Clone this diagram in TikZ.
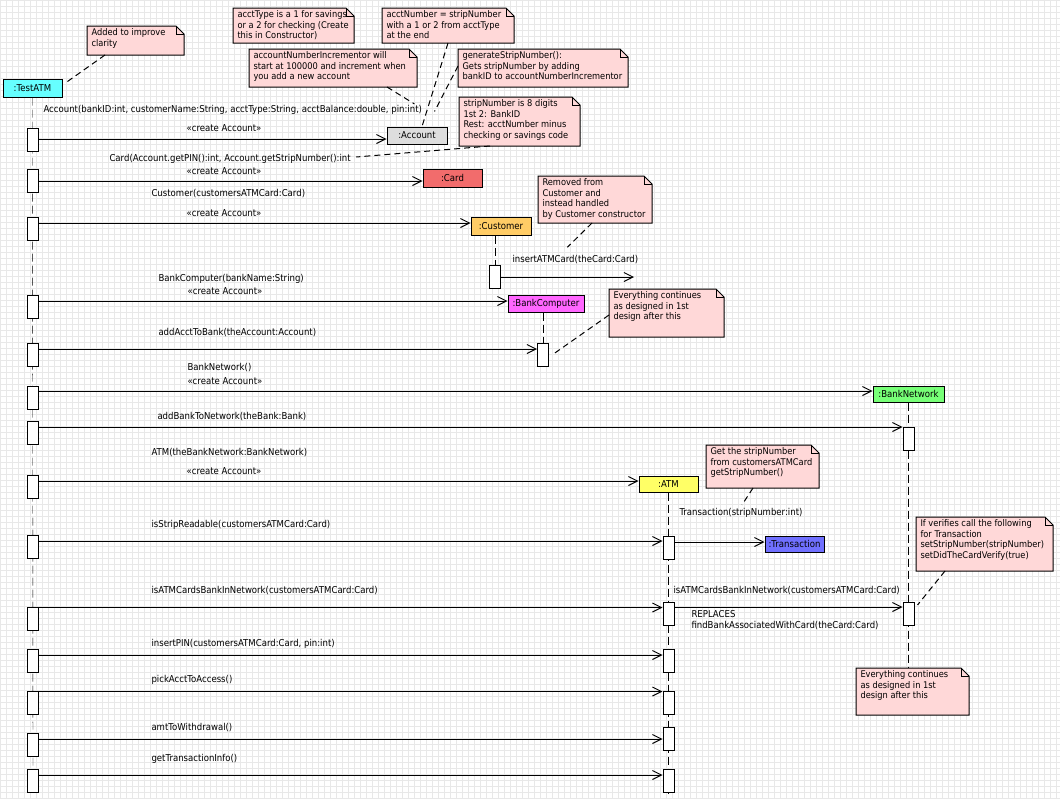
\documentclass[tikz,border=0pt]{standalone}
\usepackage{fontspec}
\newfontfamily\umlfont{DejaVu Sans}[FakeStretch=0.9]
\usepackage{tikz}
\usetikzlibrary{arrows.meta, backgrounds}

\definecolor{gridgray}{HTML}{E8E8E8}
\definecolor{notepink}{HTML}{FFD8D8}
\definecolor{testcyan}{HTML}{66FFFF}
\definecolor{acctgray}{HTML}{DDDDDD}
\definecolor{cardred}{HTML}{F26C6C}
\definecolor{custorange}{HTML}{FFCC66}
\definecolor{bcmagenta}{HTML}{FF66FF}
\definecolor{bngreen}{HTML}{77FF77}
\definecolor{atmyellow}{HTML}{FFFF66}
\definecolor{transblue}{HTML}{7070FF}

% note with folded corner: name, left, top, right, bottom, text
\newcommand{\umlnote}[6]{%
  \node[inner sep=0pt, minimum width={#4pt-#2pt}, minimum height={#5pt-#3pt}, anchor=north west] (#1) at (#2,#3) {};
  \draw[fill=notepink] (#1.north west) -- ([xshift=-8pt]#1.north east) -- ([yshift=-8pt]#1.north east)
    -- (#1.south east) -- (#1.south west) -- cycle;
  \draw ([xshift=-8pt]#1.north east) |- ([yshift=-8pt]#1.north east);
  \begin{scope}
    \clip (#1.north west) rectangle (#1.south east);
    \node[notetext] (#1-text) at ([xshift=3pt,yshift=-1.5pt]#1.north west) {#6};
  \end{scope}
}

\begin{document}
\begin{tikzpicture}
                        [x=1pt, y=-1pt, line width=1pt,
                         every node/.style={font=\umlfont\fontsize{9.5}{11}\selectfont},
                         obj/.style={draw, fill=#1, minimum height=18pt, inner sep=0pt},
                         act/.style={draw, fill=white, minimum width=11pt, minimum height=23pt, inner sep=0pt, anchor=north},
                         msg/.style={-{Straight Barb[length=9pt, width=9pt]}},
                         lbl/.style={anchor=west, inner sep=0pt},
                         notetext/.style={anchor=north west, align=left, inner sep=1pt,
                                          font=\umlfont\fontsize{9.2}{10.5}\selectfont},
                         lifeline/.style={dash pattern=on 8pt off 4pt},
                         noteline/.style={dash pattern=on 6pt off 4pt}]

                        \useasboundingbox (0,0) rectangle (1060,798);

                        % objects
                        \node[obj=testcyan, minimum width=59pt] (testatm) at (32.5,88) {:TestATM};
                        \node[obj=acctgray, minimum width=60pt, minimum height=17pt] (account) at (417,135.5) {:Account};
                        \node[obj=cardred, minimum width=59pt] (card) at (452.5,178) {:Card};
                        \node[obj=custorange, minimum width=60pt] (customer) at (501,226) {:Customer};
                        \node[obj=bcmagenta, minimum width=76pt, minimum height=17pt] (bankcomputer) at (546,303.5) {:BankComputer};
                        \node[obj=bngreen, minimum width=71pt, minimum height=16pt] (banknetwork) at (908.5,394) {:BankNetwork};
                        \node[obj=atmyellow, minimum width=59pt, minimum height=16pt] (atm) at (668.5,484) {:ATM};
                        \node[obj=transblue, minimum width=59pt, minimum height=16pt] (transaction) at (794.5,544) {:Transaction};

                        % activations
                        \foreach \i/\y in {1/128, 2/169, 3/217, 4/295, 5/343, 6/386, 7/421,
                                           8/475, 9/535, 10/607, 11/649, 12/691, 13/733, 14/769}
                            \node[act] (ta\i) at (33,\y) {};
                        \node[act] (cu1) at (495,265) {};
                        \node[act] (bc1) at (543,343) {};
                        \node[act] (bn1) at (908.5,427) {};
                        \node[act] (bn2) at (908.5,602) {};
                        \foreach \i/\y in {1/536, 2/602, 3/649, 4/691, 5/727, 6/769}
                            \node[act] (at\i) at (668.5,\y) {};

                        % messages
                        \foreach \src/\dy/\dst in {ta1/11pt/account, ta2/12pt/card, ta3/6pt/customer,
                                                   ta4/6pt/bankcomputer, ta5/6pt/bc1, ta6/5pt/banknetwork,
                                                   ta7/6pt/bn1, ta8/6pt/atm, ta9/6pt/at1, at1/6pt/transaction,
                                                   ta10/0.5pt/at2, at2/5pt/bn2, ta11/6pt/at3, ta12/0.5pt/at4,
                                                   ta13/6pt/at5, ta14/6pt/at6}
                            \draw[msg] ([yshift=-\dy]\src.north east) coordinate (m) -- (m -| \dst.west);
                        \coordinate (insertend) at (634,277);
                        \draw[msg] ([yshift=-12pt]cu1.north east) -- (insertend);

                        % message labels
                        \node[lbl] (l-account) at (43,110) {Account(bankID:int, customerName:String, acctType:String, acctBalance:double, pin:int)};
                        \node (c-account) at (224,128) {«create Account»};
                        \node[lbl] (l-card) at (109,159) {Card(Account.getPIN():int, Account.getStripNumber():int};
                        \node (c-card) at (224,171) {«create Account»};
                        \node[lbl] (l-customer) at (151,194) {Customer(customersATMCard:Card)};
                        \node (c-customer) at (224,213) {«create Account»};
                        \node[lbl] (l-insert) at (512,260) {insertATMCard(theCard:Card)};
                        \node[lbl] (l-bankcomputer) at (158,279) {BankComputer(bankName:String)};
                        \node (c-bankcomputer) at (225,291) {«create Account»};
                        \node[lbl] (l-addacct) at (158,333) {addAcctToBank(theAccount:Account)};
                        \node[lbl] (l-banknetwork) at (187,368) {BankNetwork()};
                        \node[lbl] (c-banknetwork) at (187,381) {«create Account»};
                        \node[lbl] (l-addbank) at (157,417) {addBankToNetwork(theBank:Bank)};
                        \node[lbl] (l-atm) at (151,453) {ATM(theBankNetwork:BankNetwork)};
                        \node (c-atm) at (224,471) {«create Account»};
                        \node[lbl] (l-transaction) at (679,513) {Transaction(stripNumber:int)};
                        \node[lbl] (l-readable) at (151,525) {isStripReadable(customersATMCard:Card)};
                        \node[lbl] (l-innetwork) at (151,591) {isATMCardsBankInNetwork(customersATMCard:Card)};
                        \node[lbl] (l-innetwork2) at (673,591) {isATMCardsBankInNetwork(customersATMCard:Card)};
                        \node[lbl, align=left] (l-replaces) at (691,620) {REPLACES\\findBankAssociatedWithCard(theCard:Card)};
                        \node[lbl] (l-pin) at (151,644) {insertPIN(customersATMCard:Card, pin:int)};
                        \node[lbl] (l-pick) at (151,680) {pickAcctToAccess()};
                        \node[lbl] (l-amt) at (151,728) {amtToWithdrawal()};
                        \node[lbl] (l-info) at (151,759) {getTransactionInfo()};

                        % notes
                        \umlnote{n-clarity}{87}{26}{183}{54}{Added to improve\\clarity}
                        \umlnote{n-accttype}{233}{8}{353}{42}{acctType is a 1 for savings\\or a 2 for checking (Create\\this in Constructor)}
                        \umlnote{n-acctnumber}{382}{8}{513}{42}{acctNumber = stripNumber\\with a 1 or 2 from acctType\\at the end}
                        \umlnote{n-incrementor}{249}{49}{416}{86}{accountNumberIncrementor will\\start at 100000 and increment when\\you add a new account}
                        \umlnote{n-genstrip}{458}{49}{627}{86}{generateStripNumber():\\Gets stripNumber by adding\\bankID to accountNumberIncrementor}
                        \umlnote{n-stripdigits}{459}{97}{579}{145}{stripNumber is 8 digits\\1st 2: BankID\\Rest: acctNumber minus\\checking or savings code}
                        \umlnote{n-removed}{538}{176}{651}{222}{Removed from\\Customer and\\instead handled\\by Customer constructor}
                        \umlnote{n-continue1}{609}{289}{723}{336}{Everything continues\\as designed in 1st\\design after this}
                        \umlnote{n-getstrip}{706}{445}{818}{487}{Get the stripNumber\\from customersATMCard\\getStripNumber()}
                        \umlnote{n-verifies}{916}{517}{1052}{570}{If verifies call the following\\for Transaction\\setStripNumber(stripNumber)\\setDidTheCardVerify(true)}
                        \umlnote{n-continue2}{856}{668}{968}{714}{Everything continues\\as designed in 1st\\design after this}

                        % note anchors
                        \draw[noteline] ([xshift=18pt]n-clarity.south west) -- ([xshift=5pt,yshift=-3pt]testatm.north east);
                        \draw[noteline] ([xshift=66pt]n-acctnumber.south west) -- ([xshift=5pt]account.north);
                        \draw[noteline] ([xshift=138pt]n-incrementor.south west) -- ([xshift=-8pt,yshift=1pt]l-account.north east);
                        \draw[noteline] ([yshift=-17pt]n-genstrip.north west) -- ([xshift=-13pt,yshift=15pt]account.north east);
                        \draw[noteline] ([xshift=31pt]n-stripdigits.south west) -- ([xshift=5pt,yshift=2pt]l-card.east);
                        \draw[noteline] ([xshift=54pt]n-removed.south west) -- ([xshift=-8pt,yshift=8pt]l-insert.north);
                        \draw[noteline] ([yshift=22pt]n-continue1.south west) -- ([xshift=3pt]bc1.east);
                        \draw[noteline] ([xshift=47pt]n-getstrip.south west) -- ([xshift=1pt,yshift=3pt]l-transaction.north);
                        \draw[noteline] ([xshift=29pt]n-verifies.south west) -- ([xshift=3pt,yshift=-3pt]bn2.north east);

                        \begin{pgfonlayer}{background}
                            \fill[white] (0,0) rectangle (1060,798);
                            \draw[gridgray, line width=0.8pt, step=6pt] (0,0) grid (1060,798);
                            % lifelines
                            \draw[lifeline] (testatm.south) -- (ta14.south);
                            \draw[lifeline] (cu1 |- customer.south) -- (cu1.north);
                            \draw[lifeline] (bc1 |- bankcomputer.south) -- (bc1.north);
                            \draw[lifeline] (bn1 |- banknetwork.south) -- (bn1 |- n-continue2.north);
                            \draw[lifeline] (at1 |- atm.south) -- (at6.south);
                        \end{pgfonlayer}
                    \end{tikzpicture}
\end{document}
